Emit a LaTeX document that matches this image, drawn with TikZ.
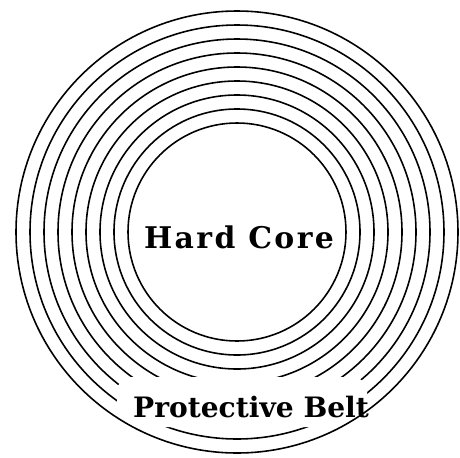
\documentclass[tikz,border=0pt]{standalone}
\usepackage{fontspec}
\newfontfamily\beltfont{DejaVu Serif}
\newfontfamily\corefont[LetterSpace=8]{DejaVu Serif}
\begin{document}
\begin{tikzpicture}[x=0.02cm,y=-0.02cm,line width=0.9pt]
\useasboundingbox (0,0) rectangle (460,457);

% rings of the belt
\foreach \r in {109,123,137,151,165,179,193,207}
  \draw (237,232) circle[radius=\r*0.02cm];

% gap for the label
\fill[white,rounded corners=8pt] (117,377) rectangle (367,427);

\draw (237,232) circle[radius=221*0.02cm];

\node (core) at (239,237) {\corefont\bfseries\fontsize{17}{20}\selectfont Hard Core};
\node (belt) at (251,407) {\beltfont\bfseries\fontsize{16}{19}\selectfont Protective Belt};
\end{tikzpicture}
\end{document}
